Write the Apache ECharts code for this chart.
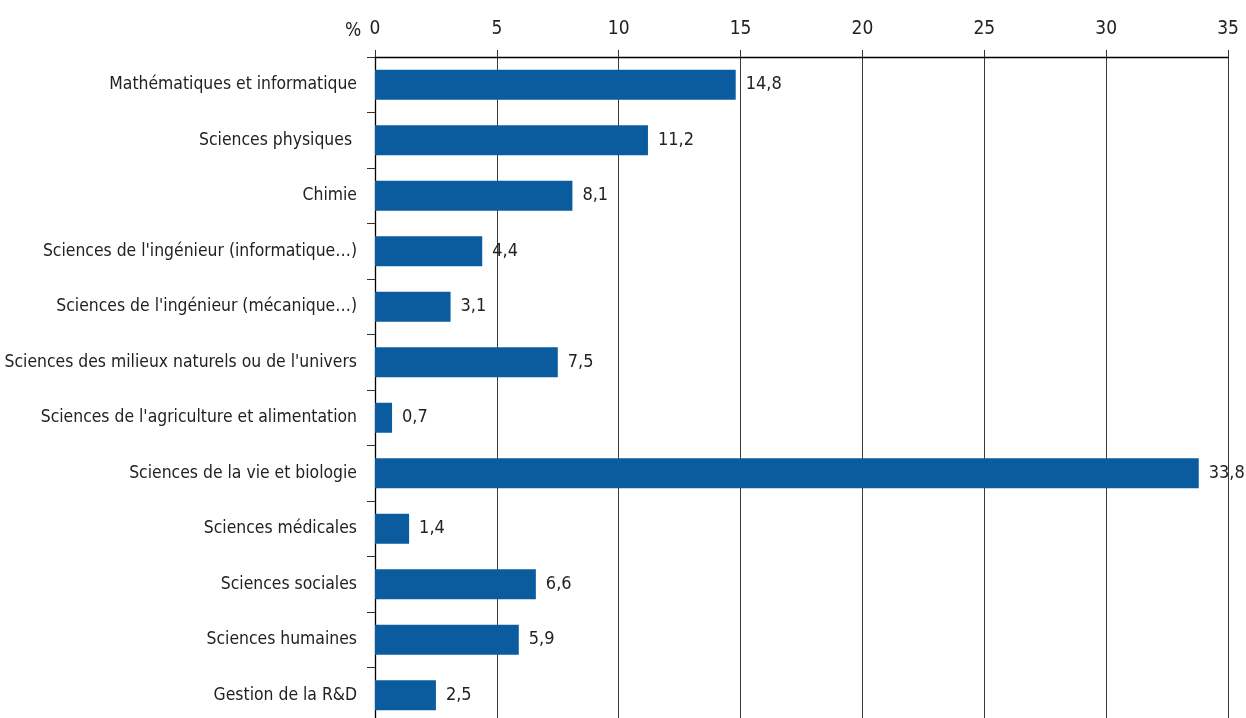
<!DOCTYPE html>
<html>
<head>
<meta charset="utf-8">
<script src="https://cdn.jsdelivr.net/npm/echarts@6/dist/echarts.min.js"></script>
<style>html,body{margin:0;padding:0;background:#fff}#c{width:1246px;height:718px}</style>
</head>
<body>
<div id="c"></div>
<script>
const categories = [
  "Mathématiques et informatique",
  "Sciences physiques ",
  "Chimie",
  "Sciences de l'ingénieur (informatique…)",
  "Sciences de l'ingénieur (mécanique…)",
  "Sciences des milieux naturels ou de l'univers",
  "Sciences de l'agriculture et alimentation",
  "Sciences de la vie et biologie",
  "Sciences médicales",
  "Sciences sociales",
  "Sciences humaines",
  "Gestion de la R&D"
];
const values = [14.8, 11.2, 8.1, 4.4, 3.1, 7.5, 0.7, 33.8, 1.4, 6.6, 5.9, 2.5];
const unitLabel = "%";

const FONT = '"DejaVu Sans Condensed", "Liberation Sans Narrow", sans-serif';
const chart = echarts.init(document.getElementById('c'), null, {renderer: 'canvas'});
chart.setOption({
  animation: false,
  backgroundColor: '#ffffff',
  title: {
    text: unitLabel, left: 340, top: 17,
    textStyle: {fontFamily: FONT, fontSize: 19, fontWeight: 'normal', color: '#222'}
  },
  grid: {left: 375, right: 18, top: 57, height: 666, containLabel: false, outerBoundsMode: 'none'},
  xAxis: {
    type: 'value', position: 'top', min: 0, max: 35, interval: 5,
    axisLine: {show: true, lineStyle: {color: '#000', width: 1.3}},
    axisTick: {show: true, length: 7, inside: false, lineStyle: {color: '#333'}},
    splitLine: {show: true, lineStyle: {color: '#3a3a3a', width: 1}},
    axisLabel: {fontFamily: FONT, fontSize: 19, color: '#222', margin: 18}
  },
  yAxis: {
    type: 'category', data: categories, inverse: true,
    axisLine: {show: true, lineStyle: {color: '#000', width: 1.3}},
    axisTick: {show: true, length: 8, lineStyle: {color: '#333'}},
    axisLabel: {fontFamily: FONT, fontSize: 17.4, color: '#222', margin: 18, padding: [4, 0, 0, 0]}
  },
  series: [{
    type: 'bar', data: values, barWidth: 30,
    itemStyle: {color: '#0A5C9E'},
    label: {
      show: true, position: 'right', distance: 10,
      fontFamily: FONT, fontSize: 18, color: '#222',
      formatter: p => String(p.value).replace('.', ',')
    }
  }]
});
</script>
</body>
</html>
